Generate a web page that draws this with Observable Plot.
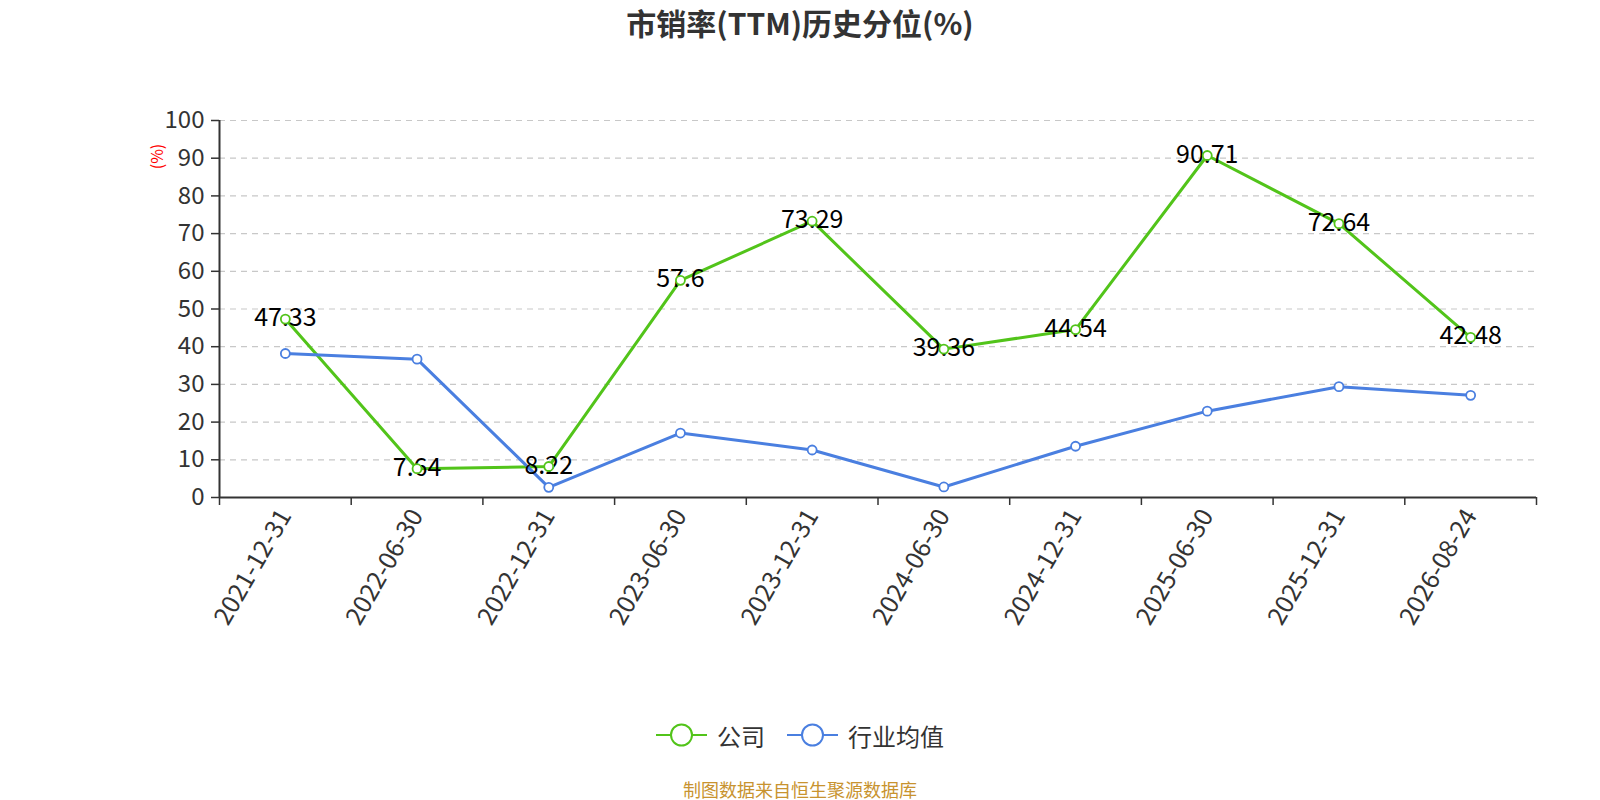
<!DOCTYPE html>
<html>
<head>
<meta charset="utf-8">
<script src="https://cdn.jsdelivr.net/npm/d3@7"></script>
<script src="https://cdn.jsdelivr.net/npm/@observablehq/plot@0.6"></script>
<style>
  html, body { margin: 0; width: 1600px; height: 800px; overflow: hidden; background: #fff; font-family: "Noto Sans CJK SC", "Noto Sans", sans-serif; }
  #wrap { width: 1600px; }
  #title { height: 50px; line-height: 45px; text-align: center; font-size: 30px; font-weight: bold; color: #333; }
  #legend { height: 50px; display: flex; justify-content: center; align-items: center; gap: 22px; font-size: 24px; color: #333; }
  .item { display: flex; align-items: center; gap: 10px; }
  #footer { height: 26px; line-height: 26px; text-align: center; font-size: 18px; color: #c8932f; margin-top: 16px; }
  svg { display: block; }
</style>
</head>
<body>
<div id="wrap">
  <div id="title">市销率(TTM)历史分位(%)</div>
  <div id="chart"></div>
  <div id="legend"></div>
  <div id="footer">制图数据来自恒生聚源数据库</div>
</div>
<script>
const dates = ["2021-12-31","2022-06-30","2022-12-31","2023-06-30","2023-12-31","2024-06-30","2024-12-31","2025-06-30","2025-12-31","2026-08-24"];
const companyValues = [47.33, 7.64, 8.22, 57.6, 73.29, 39.36, 44.54, 90.71, 72.64, 42.48];
const industryValues = [38.2, 36.7, 2.7, 17.1, 12.6, 2.8, 13.6, 22.9, 29.4, 27.1];
const yTicks = [0,10,20,30,40,50,60,70,80,90,100];
const seriesNames = ["公司", "行业均值"];
const colors = ["#52c41a", "#4a7fe0"];

const company = dates.map((d, i) => ({i, date: d, value: companyValues[i]}));
const industry = dates.map((d, i) => ({i, date: d, value: industryValues[i]}));
const idx = d3.range(dates.length);
const bounds = d3.range(dates.length + 1).map(i => i - 0.5);

const font = "'Noto Sans CJK SC', 'Noto Sans', sans-serif";

const chart = Plot.plot({
  width: 1600,
  height: 660,
  marginLeft: 219,
  marginRight: 64,
  marginTop: 70,
  marginBottom: 213,
  style: {fontFamily: font, background: "#fff"},
  x: {type: "linear", domain: [-0.5, dates.length - 0.5]},
  y: {domain: [0, 100]},
  marks: [
    Plot.gridY(yTicks.filter(t => t > 0), {stroke: "#c8c8c8", strokeOpacity: 1, strokeDasharray: "6,5", strokeWidth: 1.2}),
    Plot.axisY(yTicks, {tickSize: 8, tickPadding: 7, fontSize: 24, fill: "#333", stroke: "#333", strokeWidth: 1.5, label: null, tickFormat: d => d}),
    Plot.axisX(idx, {tickSize: 0, tickPadding: 14, tickRotate: -60, fontSize: 25, fill: "#333", label: null, tickFormat: i => dates[i]}),
    Plot.axisX(bounds, {tickSize: 8, stroke: "#333", strokeWidth: 1.5, tickFormat: () => "", label: null}),
    Plot.ruleY([0], {stroke: "#333", strokeWidth: 2}),
    Plot.ruleX([-0.5], {stroke: "#333", strokeWidth: 2}),
    Plot.text(["(%)"], {frameAnchor: "top-left", dx: -62, dy: 36, rotate: -90, textAnchor: "middle", lineAnchor: "middle", fill: "red", fontSize: 16}),
    Plot.line(company, {x: "i", y: "value", stroke: colors[0], strokeWidth: 3}),
    Plot.line(industry, {x: "i", y: "value", stroke: colors[1], strokeWidth: 3}),
    Plot.text(company, {x: "i", y: "value", text: d => String(d.value), fontSize: 25, fill: "#000", dy: -1}),
    Plot.dot(company, {x: "i", y: "value", r: 4.5, fill: "#fff", stroke: colors[0], strokeWidth: 1.8}),
    Plot.dot(industry, {x: "i", y: "value", r: 4.5, fill: "#fff", stroke: colors[1], strokeWidth: 1.8})
  ]
});
document.getElementById("chart").appendChild(chart);

const legend = document.getElementById("legend");
seriesNames.forEach((name, k) => {
  const item = document.createElement("div");
  item.className = "item";
  item.innerHTML = `<svg width="51" height="26"><line x1="0" y1="13" x2="51" y2="13" stroke="${colors[k]}" stroke-width="2"/><circle cx="25.5" cy="13" r="10.5" fill="#fff" stroke="${colors[k]}" stroke-width="2"/></svg><span>${name}</span>`;
  legend.appendChild(item);
});
</script>
</body>
</html>
